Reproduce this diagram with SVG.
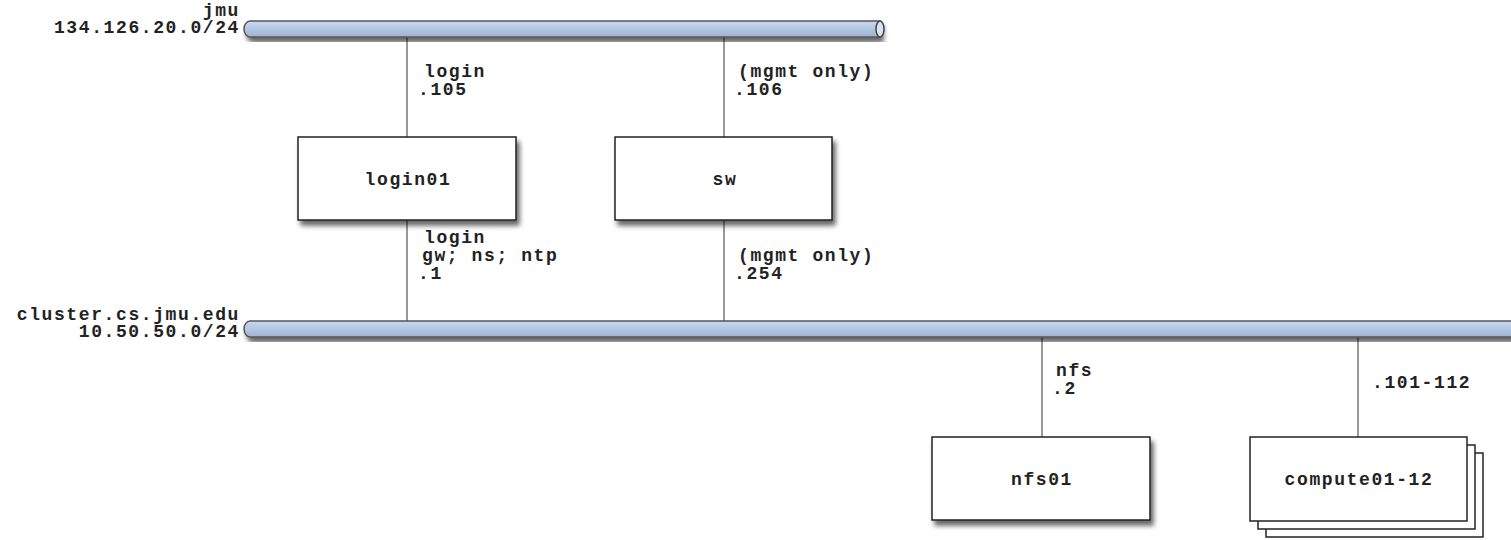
<svg xmlns="http://www.w3.org/2000/svg" width="1511" height="540" viewBox="0 0 1511 540">
<defs>
<filter id="sh" x="-10%" y="-10%" width="130%" height="140%">
<feGaussianBlur in="SourceAlpha" stdDeviation="2.5"/>
<feOffset dx="3" dy="5" result="b"/>
<feComponentTransfer><feFuncA type="linear" slope="0.6"/></feComponentTransfer>
<feMerge><feMergeNode/><feMergeNode in="SourceGraphic"/></feMerge>
</filter>
<linearGradient id="bus" x1="0" y1="0" x2="0" y2="1">
<stop offset="0" stop-color="#c8d8ee"/>
<stop offset="0.5" stop-color="#b3c7e3"/>
<stop offset="1" stop-color="#9fb3d0"/>
</linearGradient>
</defs>
<style>
text{font-family:"Liberation Mono","DejaVu Sans Mono",monospace;font-weight:bold;font-size:18px;letter-spacing:1.6px;fill:#222}
.r{text-anchor:end}
.c{text-anchor:middle}
.box{fill:#fff;stroke:#222;stroke-width:1.5}
.ln{stroke:#777;stroke-width:1.5;fill:none}
.bus{fill:url(#bus);stroke:#555;stroke-width:1.5}
</style>
<rect width="1511" height="540" fill="#fff"/>
<g id="connectors">
<line class="ln" x1="407" y1="37" x2="407" y2="137"/>
<line class="ln" x1="724" y1="37" x2="724" y2="137"/>
<line class="ln" x1="407" y1="220" x2="407" y2="321"/>
<line class="ln" x1="724" y1="220" x2="724" y2="321"/>
<line class="ln" x1="1042" y1="337" x2="1042" y2="437"/>
<line class="ln" x1="1358" y1="337" x2="1358" y2="437"/>
<text x="424" y="77">login</text>
<text x="418" y="95">.105</text>
<text x="738" y="77">(mgmt only)</text>
<text x="734" y="95">.106</text>
<text x="424" y="243">login</text>
<text x="422" y="261">gw; ns; ntp</text>
<text x="418" y="279">.1</text>
<text x="738" y="261">(mgmt only)</text>
<text x="734" y="279">.254</text>
<text x="1056" y="376">nfs</text>
<text x="1052" y="394">.2</text>
<text x="1372" y="388">.101-112</text>
</g>
<g id="jmu">
<path class="bus" d="M250,21 H880 V37 H250 A6,8 0 0 1 250,21 Z" filter="url(#sh)"/>
<ellipse cx="880" cy="29" rx="4" ry="8" fill="#d8e4f4" stroke="#444" stroke-width="1.5"/>
<text class="r" x="240" y="16">jmu</text>
<text class="r" x="240" y="33">134.126.20.0/24</text>
</g>
<g id="cluster">
<path class="bus" d="M250,321 H1515 V337 H250 A6,8 0 0 1 250,321 Z" filter="url(#sh)"/>
<text class="r" x="240" y="320">cluster.cs.jmu.edu</text>
<text class="r" x="240" y="337">10.50.50.0/24</text>
</g>
<g id="login01">
<rect class="box" x="298" y="137" width="218" height="83" filter="url(#sh)"/>
<text class="c" x="408" y="185">login01</text>
</g>
<g id="sw">
<rect class="box" x="615" y="137" width="217" height="83" filter="url(#sh)"/>
<text class="c" x="725" y="185">sw</text>
</g>
<g id="nfs01">
<rect class="box" x="932" y="437" width="218" height="83" filter="url(#sh)"/>
<text class="c" x="1042" y="485">nfs01</text>
</g>
<g id="compute01-12">
<rect class="box" x="1266" y="453" width="217" height="84"/>
<rect class="box" x="1258" y="445" width="217" height="84"/>
<rect class="box" x="1250" y="437" width="217" height="84"/>
<text class="c" x="1359" y="485">compute01-12</text>
</g>
</svg>
